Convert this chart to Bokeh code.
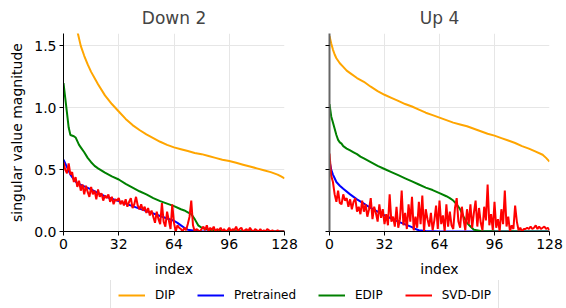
from bokeh.plotting import figure
from bokeh.layouts import column, row
from bokeh.models import Range1d, FixedTicker, Legend, LegendItem, NumeralTickFormatter
from bokeh.embed import file_html
from bokeh.resources import INLINE

# ---------------- data ----------------
TITLES = ["Down 2", "Up 4"]
X_TICKS = [0, 32, 64, 96, 128]
Y_TICKS = [0.0, 0.5, 1.0, 1.5]
SERIES = ["DIP", "Pretrained", "EDIP", "SVD-DIP"]
COLORS = ["orange", "blue", "green", "red"]

# Down 2
down_dip_x = [0, 4, 8, 10, 12, 14, 16, 20, 24, 28, 32, 36, 40, 44, 48, 52, 56, 60, 64, 68, 72, 76, 80,
              84, 88, 92, 96, 100, 104, 108, 112, 116, 120, 124, 126, 128]
down_dip_y = [2.4, 1.95, 1.62, 1.50, 1.42, 1.35, 1.29, 1.19, 1.10, 1.03, 0.97, 0.91, 0.86, 0.82, 0.785,
              0.755, 0.725, 0.70, 0.68, 0.665, 0.65, 0.635, 0.625, 0.61, 0.595, 0.58, 0.57, 0.555, 0.54,
              0.525, 0.51, 0.495, 0.48, 0.46, 0.445, 0.43]
down_pre_x = [0, 2, 4, 6, 8, 12, 16, 20, 24, 28, 32, 36, 40, 44, 48, 52, 56, 60, 64, 66, 68, 70, 72, 76,
              80, 88, 96, 112, 128]
down_pre_y = [0.58, 0.52, 0.46, 0.42, 0.39, 0.365, 0.34, 0.31, 0.285, 0.265, 0.245, 0.225, 0.205, 0.185,
              0.165, 0.145, 0.125, 0.105, 0.087, 0.07, 0.05, 0.03, 0.015, 0.006, 0.003, 0.001, 0.0, 0.0, 0.0]
down_edip_x = [0, 1, 2, 3, 4, 6, 7, 8, 9, 10, 12, 14, 16, 18, 20, 24, 28, 32, 36, 40, 44, 48, 52, 56, 60,
               64, 68, 70, 72, 74, 76, 78, 80, 84, 88, 92, 96, 104, 112, 120, 128]
down_edip_y = [1.20, 1.08, 0.96, 0.84, 0.78, 0.77, 0.76, 0.73, 0.70, 0.68, 0.64, 0.595, 0.56, 0.53, 0.51,
               0.475, 0.445, 0.42, 0.385, 0.355, 0.325, 0.30, 0.27, 0.245, 0.225, 0.205, 0.18, 0.17,
               0.155, 0.14, 0.10, 0.05, 0.03, 0.015, 0.008, 0.005, 0.003, 0.002, 0.001, 0.0, 0.0]
down_svd_y = [0.56, 0.50, 0.47, 0.55, 0.46, 0.48, 0.40, 0.44, 0.36, 0.41,
              0.33, 0.38, 0.30, 0.37, 0.32, 0.28, 0.36, 0.30, 0.33, 0.26,
              0.34, 0.28, 0.31, 0.25, 0.29, 0.27, 0.30, 0.24, 0.28, 0.22,
              0.26, 0.25, 0.27, 0.22, 0.25, 0.21, 0.26, 0.20, 0.24, 0.27,
              0.19, 0.22, 0.28, 0.21, 0.18, 0.22, 0.17, 0.20, 0.15, 0.19,
              0.13, 0.17, 0.12, 0.07, 0.16, 0.10, 0.06, 0.23, 0.08, 0.04,
              0.16, 0.09, 0.02, 0.22, 0.07, 0.00, 0.05, 0.03, 0.02, 0.00,
              0.03, 0.01, 0.06, 0.12, 0.25, 0.05, 0.00, 0.02, 0.01, 0.00,
              0.02, 0.04, 0.01, 0.05, 0.00, 0.03, 0.01, 0.04, 0.00, 0.02,
              0.01, 0.03, 0.00, 0.02, 0.00, 0.01, 0.03, 0.00, 0.02, 0.01,
              0.04, 0.00, 0.02, 0.03, 0.00, 0.01, 0.02, 0.00, 0.03, 0.01,
              0.00, 0.02, 0.01, 0.00, 0.02, 0.00, 0.01, 0.00, 0.02, 0.01,
              0.00, 0.01, 0.00, 0.00, 0.01, 0.00, 0.00, 0.00, 0.00]

# Up 4
up_dip_x = [0, 1, 2, 3, 4, 5, 6, 8, 10, 12, 16, 20, 24, 28, 32, 36, 40, 44, 48, 52, 56, 60, 64, 68, 72,
            76, 80, 84, 88, 92, 96, 100, 104, 108, 112, 116, 120, 124, 126, 128]
up_dip_y = [1.58, 1.52, 1.47, 1.43, 1.40, 1.38, 1.36, 1.33, 1.30, 1.28, 1.24, 1.21, 1.17, 1.135, 1.105,
            1.08, 1.055, 1.03, 1.01, 0.985, 0.96, 0.94, 0.92, 0.90, 0.88, 0.865, 0.85, 0.83, 0.81, 0.79,
            0.775, 0.755, 0.735, 0.715, 0.69, 0.67, 0.645, 0.62, 0.595, 0.565]
up_pre_x = [0, 1, 2, 3, 4, 6, 8, 12, 16, 20, 24, 28, 32, 36, 40, 44, 48, 50, 52, 56, 60, 64, 128]
up_pre_y = [0.57, 0.50, 0.46, 0.43, 0.40, 0.37, 0.345, 0.30, 0.26, 0.225, 0.19, 0.16, 0.13, 0.105, 0.08,
            0.058, 0.035, 0.02, 0.01, 0.004, 0.002, 0.0, 0.0]
up_edip_x = [0, 1, 2, 3, 4, 5, 6, 7, 8, 10, 12, 14, 16, 18, 20, 24, 28, 32, 36, 40, 44, 48, 52, 56, 60,
             64, 68, 70, 72, 74, 76, 78, 80, 82, 84, 88, 96, 112, 128]
up_edip_y = [1.03, 0.93, 0.88, 0.83, 0.78, 0.74, 0.72, 0.71, 0.69, 0.67, 0.655, 0.64, 0.625, 0.605, 0.59,
             0.56, 0.53, 0.505, 0.48, 0.455, 0.43, 0.405, 0.38, 0.355, 0.335, 0.31, 0.285, 0.27, 0.25,
             0.22, 0.18, 0.12, 0.07, 0.04, 0.015, 0.005, 0.002, 0.0, 0.0]
up_svd_y = [0.63, 0.45, 0.40, 0.30, 0.24, 0.33, 0.23, 0.22, 0.30, 0.25,
            0.27, 0.20, 0.26, 0.18, 0.24, 0.27, 0.16, 0.20, 0.14, 0.25,
            0.16, 0.22, 0.12, 0.18, 0.27, 0.10, 0.20, 0.15, 0.08, 0.22,
            0.11, 0.18, 0.06, 0.14, 0.05, 0.30, 0.08, 0.12, 0.04, 0.20,
            0.03, 0.10, 0.33, 0.05, 0.15, 0.02, 0.22, 0.08, 0.28, 0.01,
            0.12, 0.03, 0.24, 0.06, 0.29, 0.00, 0.18, 0.10, 0.04, 0.15,
            0.01, 0.09, 0.21, 0.02, 0.25, 0.06, 0.13, 0.00, 0.22, 0.04,
            0.16, 0.05, 0.02, 0.19, 0.27, 0.08, 0.03, 0.20, 0.10, 0.01,
            0.18, 0.06, 0.22, 0.03, 0.15, 0.25, 0.04, 0.19, 0.07, 0.01,
            0.20, 0.09, 0.38, 0.05, 0.14, 0.01, 0.24, 0.03, 0.10, 0.00,
            0.18, 0.06, 0.33, 0.04, 0.12, 0.00, 0.05, 0.02, 0.21, 0.08,
            0.01, 0.03, 0.00, 0.02, 0.02, 0.03, 0.02, 0.04, 0.02, 0.03,
            0.05, 0.02, 0.04, 0.02, 0.03, 0.04, 0.02, 0.03, 0.01]
svd_x = list(range(129))

FONT = "DejaVu Sans"


def make_panel(title, data, width, border_left, border_right, show_ylabels):
    p = figure(width=width, height=280, output_backend="svg", toolbar_location=None,
               x_range=Range1d(0, 128), y_range=Range1d(0, 1.6),
               min_border_left=border_left, min_border_right=border_right,
               min_border_top=30, min_border_bottom=49)
    p.title.text = title
    p.title.text_font = FONT
    p.title.text_font_size = "17px"
    p.title.text_font_style = "normal"
    p.title.align = "center"
    p.title.standoff = 11
    p.outline_line_color = None
    p.background_fill_color = "white"
    p.border_fill_color = "white"
    for (xs, ys), c in zip(data, COLORS):
        p.line(xs, ys, line_color=c, line_width=2)
    p.xaxis.ticker = FixedTicker(ticks=X_TICKS)
    p.yaxis.ticker = FixedTicker(ticks=Y_TICKS)
    p.yaxis.formatter = NumeralTickFormatter(format="0.0")
    p.xaxis.axis_label = "index"
    for ax in p.axis:
        ax.axis_line_color = "black"
        ax.major_tick_line_color = "black"
        ax.major_tick_out = 4
        ax.major_tick_in = 0
        ax.minor_tick_out = 0
        ax.minor_tick_in = 0
        ax.major_label_text_font = FONT
        ax.major_label_text_font_size = "14px"
        ax.major_label_text_color = "black"
        ax.major_label_standoff = 3
        ax.axis_label_text_font = FONT
        ax.axis_label_text_font_size = "14px"
        ax.axis_label_text_font_style = "normal"
        ax.axis_label_text_color = "black"
        ax.axis_label_standoff = 9
    if show_ylabels:
        p.yaxis.axis_label = "singular value magnitude"
        p.yaxis.axis_label_standoff = 6
    else:
        p.yaxis.major_label_overrides = {t: "" for t in Y_TICKS}
        p.yaxis.axis_line_color = "#666666"
        p.yaxis.axis_line_width = 2
    p.grid.grid_line_color = "#e6e6e6"
    p.grid.grid_line_width = 1
    return p


p1 = make_panel(TITLES[0],
                [(down_dip_x, down_dip_y), (down_pre_x, down_pre_y),
                 (down_edip_x, down_edip_y), (svd_x, down_svd_y)],
                300, 63, 16, True)
p2 = make_panel(TITLES[1],
                [(up_dip_x, up_dip_y), (up_pre_x, up_pre_y),
                 (up_edip_x, up_edip_y), (svd_x, up_svd_y)],
                266, 29, 17, False)

# legend strip (legend-only proxies, no visible data)
NAN = float("nan")
pl = figure(width=566, height=28, output_backend="svg", toolbar_location=None,
            x_axis_type=None, y_axis_type=None, min_border=0,
            x_range=Range1d(0, 1), y_range=Range1d(0, 1))
pl.outline_line_color = None
pl.grid.visible = False
lr = [pl.line([NAN], [NAN], line_color=c, line_width=2) for c in COLORS]
leg = Legend(items=[LegendItem(label=s, renderers=[r]) for s, r in zip(SERIES, lr)],
             orientation="horizontal", location=(110, -3))
leg.label_text_font = FONT
leg.label_text_font_size = "12px"
leg.label_text_color = "black"
leg.glyph_width = 27
leg.glyph_height = 16
leg.label_standoff = 10
leg.spacing = 22
leg.padding = 7
leg.margin = 0
leg.border_line_color = "#c8c8c8"
leg.border_line_width = 1
leg.background_fill_alpha = 1.0
pl.add_layout(leg, "center")

layout = column(row(p1, p2), pl, spacing=0)
open("out.html", "w").write(file_html(layout, INLINE))
